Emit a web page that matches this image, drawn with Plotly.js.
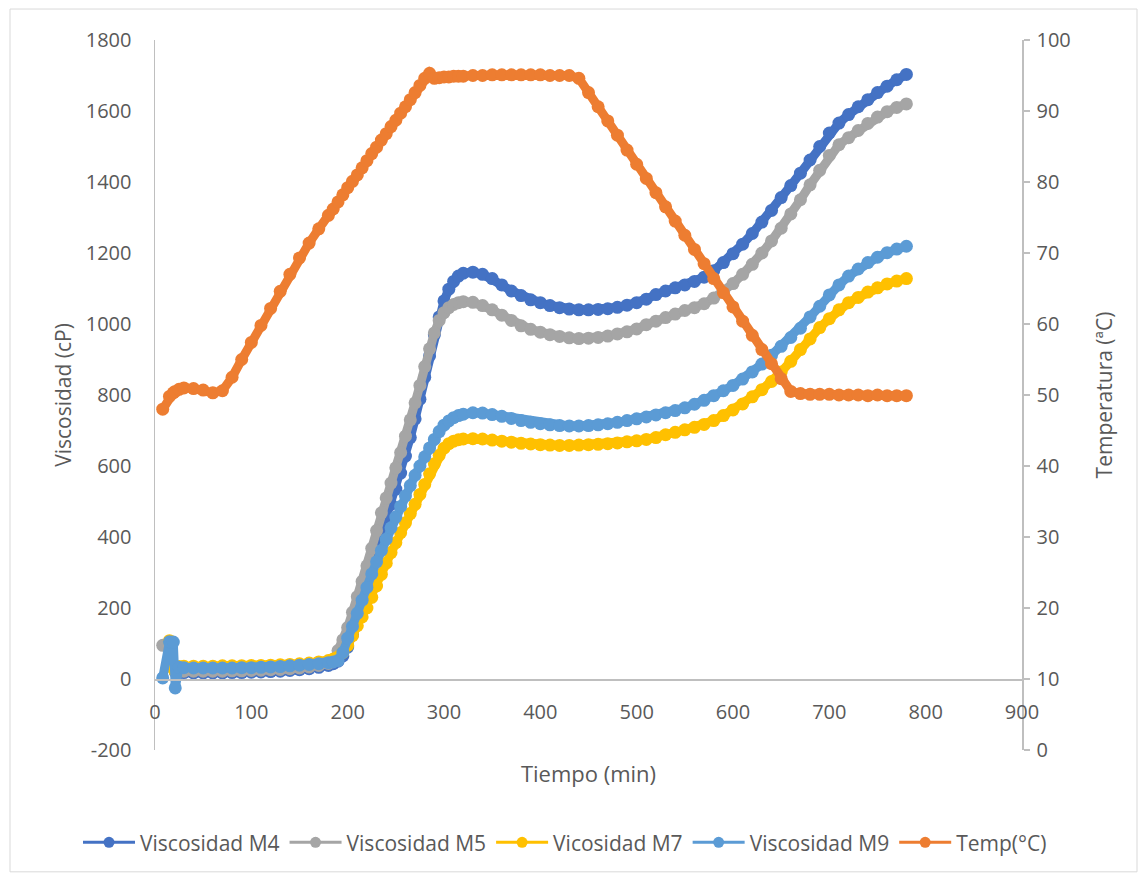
<!DOCTYPE html>
<html>
<head>
<meta charset="utf-8">
<script src="https://cdn.plot.ly/plotly-3.0.1.min.js"></script>
<style>html,body{margin:0;padding:0;background:#fff}#chart{width:1138px;height:874px}</style>
</head>
<body>
<div id="chart"></div>
<script>
// Tiempo (min)
const tiempo = [8, 15, 19, 21, 25, 30, 40, 50, 60, 70, 80, 90, 100, 110, 120, 130, 140, 150, 160, 170, 180, 185,
  190, 195, 200, 205, 210, 215, 220, 225, 230, 235, 240, 245, 250, 255, 260, 265, 270, 275, 280, 285, 290, 295, 300, 305, 310, 315, 320,
  330, 340, 350, 360, 370, 380, 390, 400, 410, 420, 430, 440, 450, 460, 470, 480, 490, 500, 510, 520, 530, 540, 550, 560, 570, 580, 590,
  600, 610, 620, 630, 640, 650, 660, 670, 680, 690, 700, 710, 720, 730, 740, 750, 760, 770, 780];

const viscM4 = [null, null, null, 20, 18, 18, 17, 17, 17, 17, 18, 18, 19, 20, 21, 22, 24, 26, 29, 33, 38, 43,
  50, 65, 90, 125, 178, 235, 282, 325, 366, 408, 450, 492, 535, 580, 628, 680, 733, 788, 850, 910, 970, 1020, 1065, 1098, 1120, 1135, 1143,
  1146, 1140, 1128, 1110, 1093, 1080, 1068, 1060, 1052, 1046, 1042, 1040, 1040, 1041, 1043, 1047, 1053, 1060, 1070, 1083, 1093, 1102, 1110, 1120, 1132, 1150, 1173,
  1198, 1225, 1255, 1287, 1320, 1356, 1390, 1425, 1462, 1500, 1538, 1566, 1590, 1612, 1632, 1652, 1670, 1688, 1703];

const viscM5 = [95, 102, null, 22, 22, 22, 22, 22, 22, 22, 23, 23, 24, 25, 26, 27, 29, 31, 34, 38, 44, 52,
  80, 110, 145, 188, 232, 275, 319, 368, 418, 468, 510, 552, 595, 638, 684, 730, 778, 827, 880, 930, 975, 1010, 1032, 1046, 1055, 1060, 1063,
  1061, 1052, 1040, 1025, 1010, 995, 985, 977, 970, 965, 961, 959, 960, 962, 966, 972, 978, 986, 998, 1008, 1018, 1028, 1038, 1046, 1057, 1073, 1092,
  1114, 1140, 1168, 1200, 1234, 1270, 1310, 1350, 1392, 1433, 1475, 1505, 1525, 1545, 1565, 1583, 1598, 1610, 1620];

const viscM7 = [null, 108, 30, 33, 35, 36, 36, 36, 36, 37, 37, 37, 38, 38, 39, 40, 41, 43, 45, 48, 52, 56,
  62, 75, 95, 122, 150, 175, 200, 230, 262, 295, 326, 356, 384, 412, 440, 466, 492, 520, 548, 578, 606, 630, 650, 663, 670, 674, 676,
  677, 676, 673, 670, 667, 664, 662, 660, 659, 658, 658, 659, 660, 661, 663, 665, 668, 671, 675, 680, 688, 695, 702, 709, 717, 728, 742,
  758, 775, 795, 815, 838, 865, 895, 928, 958, 990, 1015, 1040, 1060, 1075, 1090, 1102, 1113, 1121, 1128];

const viscM9 = [3, 105, 104, -25, 33, 32, 31, 31, 31, 31, 31, 32, 32, 33, 34, 35, 37, 39, 41, 43, 46, 48,
  52, 75, 115, 148, 185, 222, 258, 296, 330, 362, 394, 426, 456, 486, 516, 545, 574, 600, 626, 651, 675, 697, 715, 727, 736, 742, 746,
  750, 749, 745, 740, 734, 728, 723, 719, 716, 714, 713, 713, 714, 716, 719, 723, 728, 733, 738, 744, 750, 756, 764, 774, 785, 798, 812,
  827, 845, 865, 887, 912, 937, 962, 988, 1020, 1050, 1082, 1110, 1135, 1155, 1173, 1188, 1201, 1211, 1219];

const tempC = [48.0, 49.8, 50.3, 50.5, 50.8, 51.0, 50.9, 50.7, 50.3, 50.6, 52.5, 55.0, 57.4, 59.8, 62.2, 64.6, 67.0, 69.3, 71.4, 73.4, 75.3, 76.2,
  77.2, 78.2, 79.2, 80.1, 81.0, 82.0, 83.0, 84.0, 84.9, 85.9, 86.8, 87.8, 88.7, 89.7, 90.6, 91.6, 92.6, 93.6, 94.6, 95.3, 94.6, 94.7, 94.8, 94.8, 94.9, 94.9, 94.9,
  95.0, 95.0, 95.1, 95.1, 95.1, 95.1, 95.1, 95.1, 95.0, 95.0, 95.0, 94.6, 92.6, 90.6, 88.6, 86.6, 84.5, 82.5, 80.5, 78.5, 76.5, 74.5, 72.5, 70.5, 68.5, 66.4, 64.4,
  62.4, 60.4, 58.4, 56.4, 54.4, 52.3, 50.5, 50.2, 50.1, 50.1, 50.1, 50.0, 50.0, 50.0, 49.9, 50.0, 49.9, 49.9, 49.9];

const seriesNames = ['Viscosidad M4', 'Viscosidad M5', 'Vicosidad M7', 'Viscosidad M9', 'Temp(°C)'];
const seriesColors = ['#4472C4', '#A5A5A5', '#FFC000', '#5B9BD5', '#ED7D31'];
const seriesData = [viscM4, viscM5, viscM7, viscM9, tempC];

// Left axis tick labels (Excel uses a plain hyphen)
const viscTickVals = [-200, 0, 200, 400, 600, 800, 1000, 1200, 1400, 1600, 1800];
const viscTickText = ['-200', '0', '200', '400', '600', '800', '1000', '1200', '1400', '1600', '1800'];

const font = 'Open Sans, DejaVu Sans, sans-serif';
const gray = '#595959';
const axisGray = '#BFBFBF';

const dataTraces = seriesData.map((vals, i) => ({
  type: 'scatter',
  mode: 'lines+markers',
  x: tiempo,
  y: vals,
  name: seriesNames[i],
  yaxis: i === 4 ? 'y2' : 'y',
  connectgaps: true,
  showlegend: false,
  line: {color: seriesColors[i], width: 9},
  marker: {color: seriesColors[i], size: 13}
}));

// legend-only entries (thin line + marker like Excel's legend keys)
const legendTraces = seriesNames.map((n, i) => ({
  type: 'scatter',
  mode: 'lines+markers',
  x: [null],
  y: [null],
  name: n,
  yaxis: i === 4 ? 'y2' : 'y',
  showlegend: true,
  line: {color: seriesColors[i], width: 3},
  marker: {color: seriesColors[i], size: 11}
}));

const layout = {
  width: 1138,
  height: 874,
  margin: {l: 155, r: 116, t: 40, b: 123},
  paper_bgcolor: '#ffffff',
  plot_bgcolor: '#ffffff',
  showlegend: true,
  legend: {
    orientation: 'h',
    x: (78 - 155) / 867, xanchor: 'left',
    y: -0.129, yanchor: 'middle',
    bgcolor: 'rgba(0,0,0,0)',
    font: {family: font, size: 21, color: gray},
    itemwidth: 52,
    tracegroupgap: 0
  },
  xaxis: {
    range: [0, 900],
    dtick: 100,
    tick0: 0,
    anchor: 'free',
    position: 0.1,
    showline: true,
    linecolor: axisGray,
    linewidth: 1.5,
    showgrid: false,
    zeroline: false,
    ticks: '',
    ticklabelstandoff: 14,
    tickfont: {family: font, size: 20, color: gray},
    title: {text: 'Tiempo (min)', font: {family: font, size: 22, color: gray}, standoff: 43}
  },
  yaxis: {
    range: [-200, 1800],
    tickmode: 'array',
    tickvals: viscTickVals,
    ticktext: viscTickText,
    showline: true,
    linecolor: axisGray,
    linewidth: 1.5,
    showgrid: false,
    zeroline: false,
    ticks: '',
    ticklabelstandoff: 18,
    tickfont: {family: font, size: 20, color: gray},
    title: {text: 'Viscosidad (cP)', font: {family: font, size: 21, color: gray}, standoff: 8}
  },
  yaxis2: {
    range: [0, 100],
    dtick: 10,
    tick0: 0,
    overlaying: 'y',
    side: 'right',
    showline: true,
    linecolor: axisGray,
    linewidth: 1.5,
    showgrid: false,
    zeroline: false,
    ticks: 'outside',
    ticklen: 6,
    tickcolor: axisGray,
    tickwidth: 1.5,
    ticklabelstandoff: 3,
    tickfont: {family: font, size: 20, color: gray},
    title: {text: 'Temperatura (ªC)', font: {family: font, size: 21, color: gray}, standoff: 27}
  },
  shapes: [{
    type: 'rect', xref: 'paper', yref: 'paper',
    x0: (10 - 155) / 867, x1: (1137 - 155) / 867,
    y0: (751 - 873) / 711, y1: (751 - 9) / 711,
    line: {color: '#D9D9D9', width: 1}
  }]
};

Plotly.newPlot('chart', dataTraces.concat(legendTraces), layout, {staticPlot: true, displayModeBar: false});
</script>
</body>
</html>
